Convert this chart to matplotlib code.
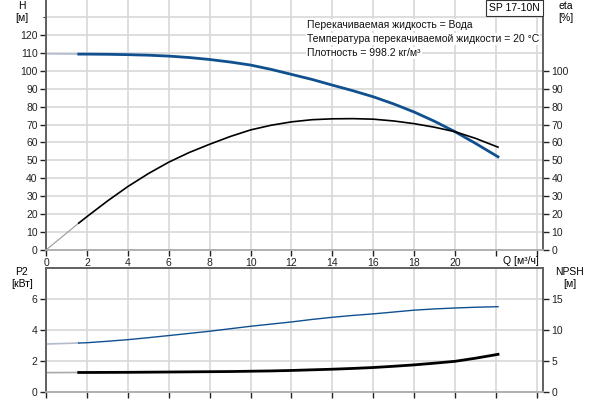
import matplotlib
matplotlib.use("Agg")
import matplotlib.pyplot as plt

plt.rcParams['font.family'] = ['Liberation Sans', 'DejaVu Sans']
plt.rcParams['font.size'] = 7.5

# данные кривых
q = [0, 1.6, 2, 3, 4, 5, 6, 7, 8, 9, 10, 11, 12, 13, 14, 15, 16, 17, 18, 19, 20, 21, 22.1]
head = [109.5, 109.3, 109.3, 109.2, 109.0, 108.7, 108.2, 107.4, 106.3, 104.9, 103.2, 100.8,
        98.0, 95.2, 92.0, 88.9, 85.5, 81.5, 77.0, 71.8, 66.0, 59.5, 52.0]
eta = [0, 15.0, 18.6, 27.3, 35.4, 42.6, 49.0, 54.4, 59.0, 63.3, 67.0, 69.6,
       71.5, 72.7, 73.2, 73.3, 73.0, 72.0, 70.5, 68.5, 66.0, 62.3, 57.4]
p2 = [1.25, 1.26, 1.26, 1.265, 1.27, 1.28, 1.29, 1.30, 1.31, 1.32, 1.34, 1.36,
      1.39, 1.43, 1.47, 1.52, 1.58, 1.66, 1.75, 1.86, 1.98, 2.18, 2.43]
npsh = [7.74, 7.9, 7.95, 8.18, 8.44, 8.76, 9.1, 9.45, 9.8, 10.2, 10.6, 10.95,
        11.3, 11.7, 12.05, 12.35, 12.6, 12.9, 13.2, 13.4, 13.55, 13.67, 13.76]

q_ticks = [0, 2, 4, 6, 8, 10, 12, 14, 16, 18, 20, 22, 24]
q_labels = ['0', '2', '4', '6', '8', '10', '12', '14', '16', '18', '20', '', '']
info = ['Перекачиваемая жидкость = Вода',
        'Температура перекачиваемой жидкости = 20 °C',
        'Плотность = 998.2 кг/м³']

blue = '#10508f'
light = '#b4bccb'
grid = '#d8d8d8'
spine = '#606060'

fig = plt.figure(figsize=(6, 4), dpi=100)
ax = fig.add_axes([46/600, 1-250/400, (543-46)/600, 250/400])
ax2 = ax.twinx()
bx = fig.add_axes([46/600, 1-392/400, (543-46)/600, (392-268)/400])
bx2 = bx.twinx()

# верхний график: H и КПД
ax.plot(q[:2], head[:2], color=light, lw=1.2)
ax.plot(q[1:], head[1:], color=blue, lw=2)
ax.plot(q[:2], eta[:2], color='#999999', lw=0.8)
ax.plot(q[1:], eta[1:], color='black', lw=1.2)

ax.set_xlim(0, 24.3)
ax.set_ylim(0, 139.5)
ax2.set_ylim(0, 139.5)
ax.set_xticks(q_ticks)
ax.set_xticklabels(q_labels)
ax.set_yticks(range(0, 121, 10))
ax.set_yticks([130], minor=True)
ax2.set_yticks(range(0, 101, 10))
ax.grid(True, which='both', color=grid, lw=1.2)
ax.set_axisbelow(True)
ax.text(24.1, -3.5, 'Q [м³/ч]', ha='right', va='top')

# нижний график: P2 и NPSH
bx.plot(q[:2], p2[:2], color='#aaaaaa', lw=1.2)
bx.plot(q[1:], p2[1:], color='black', lw=2)
bx2.plot(q[:2], npsh[:2], color=light, lw=1.2)
bx2.plot(q[1:], npsh[1:], color=blue, lw=1)
bx.set_xlim(0, 24.3)
bx.set_ylim(0, 8)
bx2.set_ylim(0, 20)
bx.set_xticks(q_ticks)
bx.set_xticklabels([])
bx.tick_params(axis='x', length=0)
bx.set_yticks([0, 2, 4, 6])
bx2.set_yticks([0, 5, 10, 15])
bx.grid(True, color=grid, lw=1.2)
bx.set_axisbelow(True)

for a in (ax, ax2, bx, bx2):
    a.tick_params(colors='#222222', length=4, width=1, direction='out', pad=2)
    for s in a.spines.values():
        s.set_color(spine)
        s.set_linewidth(1.2)
    a.spines['bottom'].set_color('#b0b0b0')
for a in (ax, ax2):
    a.spines['top'].set_visible(False)

fig.text(22/600, 1-12/400, 'H\n[м]', ha='center', va='center', linespacing=1.3)
fig.text(566/600, 1-12/400, 'eta\n[%]', ha='center', va='center', linespacing=1.3)
fig.text(22/600, 1-278/400, 'P2\n[кВт]', ha='center', va='center', linespacing=1.3)
fig.text(570/600, 1-278/400, 'NPSH\n[м]', ha='center', va='center', linespacing=1.3)

fig.text(489/600, 1-8/400, 'SP 17-10N', ha='left', va='center',
         bbox=dict(boxstyle='square,pad=0.3', fc='white', ec='#333333', lw=0.8))
for i, line in enumerate(info):
    fig.text(307/600, 1-(25+14*i)/400, line, ha='left', va='center', color='#111111',
             bbox=dict(boxstyle='square,pad=0.1', fc='white', ec='none'))

fig.savefig('out.png', dpi=100)
